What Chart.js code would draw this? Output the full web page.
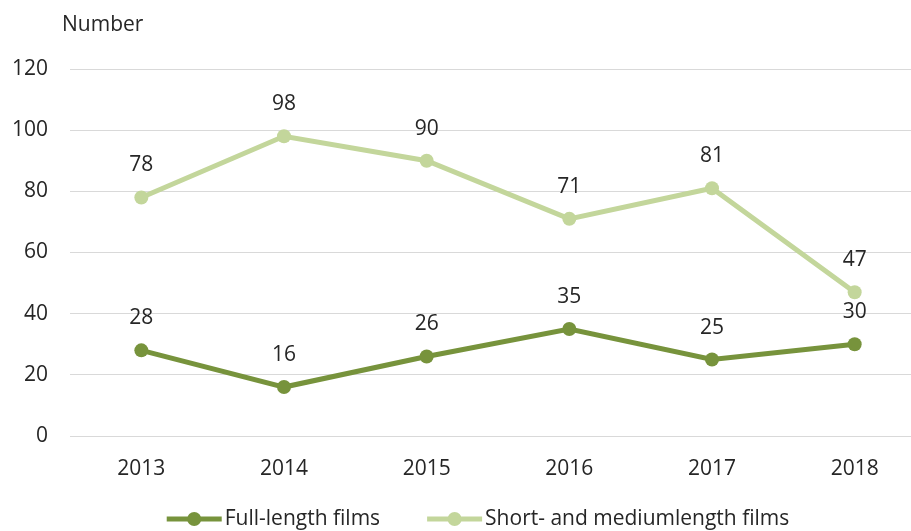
<!DOCTYPE html>
<html><head><meta charset="utf-8">
<script src="https://cdn.jsdelivr.net/npm/chart.js@4"></script>
<style>html,body{margin:0;padding:0;background:#fff;overflow:hidden}#wrap{width:911px;height:531px;overflow:hidden;position:relative}#wrap canvas{position:absolute;left:0;top:0}</style>
</head><body><div id="wrap"><canvas id="c" width="933" height="531" style="width:933px;height:531px"></canvas></div>
<script>
const years = ['2013','2014','2015','2016','2017','2018'];
const fullLength = [28, 16, 26, 35, 25, 30];
const shortMedium = [78, 98, 90, 71, 81, 47];
const seriesNames = ['Full-length films', 'Short- and mediumlength films'];
const axisTitle = 'Number';
const yTicks = [0, 20, 40, 60, 80, 100, 120];

const FONT = '"Open Sans", sans-serif';
const DARK = '#77933C', LIGHT = '#C3D69B';
const TEXT = '#262626';

const extras = {
  id: 'extras',
  afterDatasetsDraw(chart) {
    const ctx = chart.ctx;
    ctx.save();
    ctx.font = '21px ' + FONT;
    ctx.fillStyle = TEXT;
    ctx.textAlign = 'center';
    ctx.textBaseline = 'middle';
    chart.data.datasets.forEach((ds, i) => {
      const meta = chart.getDatasetMeta(i);
      meta.data.forEach((pt, j) => {
        ctx.fillText(String(ds.data[j]), pt.x, pt.y - 32);
      });
    });
    // axis title
    ctx.textAlign = 'left';
    ctx.fillText(axisTitle, 62, 25);
    // legend
    const lineW = 55, gapT = 3, gapItem = 47;
    const widths = seriesNames.map(n => ctx.measureText(n).width);
    const total = widths.reduce((a, w) => a + lineW + gapT + w, 0) + gapItem;
    let x = 478 - total / 2;
    const y = 519;
    chart.data.datasets.forEach((ds, i) => {
      ctx.strokeStyle = ds.borderColor;
      ctx.lineWidth = 5;
      ctx.beginPath(); ctx.moveTo(x, y); ctx.lineTo(x + lineW, y); ctx.stroke();
      ctx.fillStyle = ds.borderColor;
      ctx.beginPath(); ctx.arc(x + lineW / 2, y, 7, 0, Math.PI * 2); ctx.fill();
      ctx.fillStyle = TEXT;
      ctx.fillText(seriesNames[i], x + lineW + gapT, y);
      x += lineW + gapT + widths[i] + gapItem;
    });
    ctx.restore();
  }
};

new Chart(document.getElementById('c'), {
  type: 'line',
  data: {
    labels: years,
    datasets: [
      { label: seriesNames[0], data: fullLength, borderColor: DARK, backgroundColor: DARK, borderWidth: 5, pointRadius: 7, pointHoverRadius: 7, pointBackgroundColor: DARK, pointBorderWidth: 0, tension: 0 },
      { label: seriesNames[1], data: shortMedium, borderColor: LIGHT, backgroundColor: LIGHT, borderWidth: 5, pointRadius: 7, pointHoverRadius: 7, pointBackgroundColor: LIGHT, pointBorderWidth: 0, tension: 0 }
    ]
  },
  options: {
    responsive: false,
    animation: false,
    layout: { padding: { top: 69, bottom: 51, left: 0, right: 0 } },
    plugins: { legend: { display: false }, tooltip: { enabled: false } },
    scales: {
      x: {
        offset: true,
        grid: { display: false, drawTicks: false },
        border: { display: false },
        ticks: { color: TEXT, font: { family: FONT, size: 21 }, padding: 20 },
        afterFit(s) { s.height = 44; }
      },
      y: {
        min: 0, max: 120,
        afterBuildTicks(s) { s.ticks = yTicks.map(v => ({ value: v })); },
        grid: { color: '#D9D9D9', lineWidth: 1, drawTicks: false },
        border: { display: false },
        ticks: { color: TEXT, font: { family: FONT, size: 21 }, padding: 22 },
        afterFit(s) { s.width = 70; }
      }
    }
  },
  plugins: [extras]
});
</script>
</body></html>
